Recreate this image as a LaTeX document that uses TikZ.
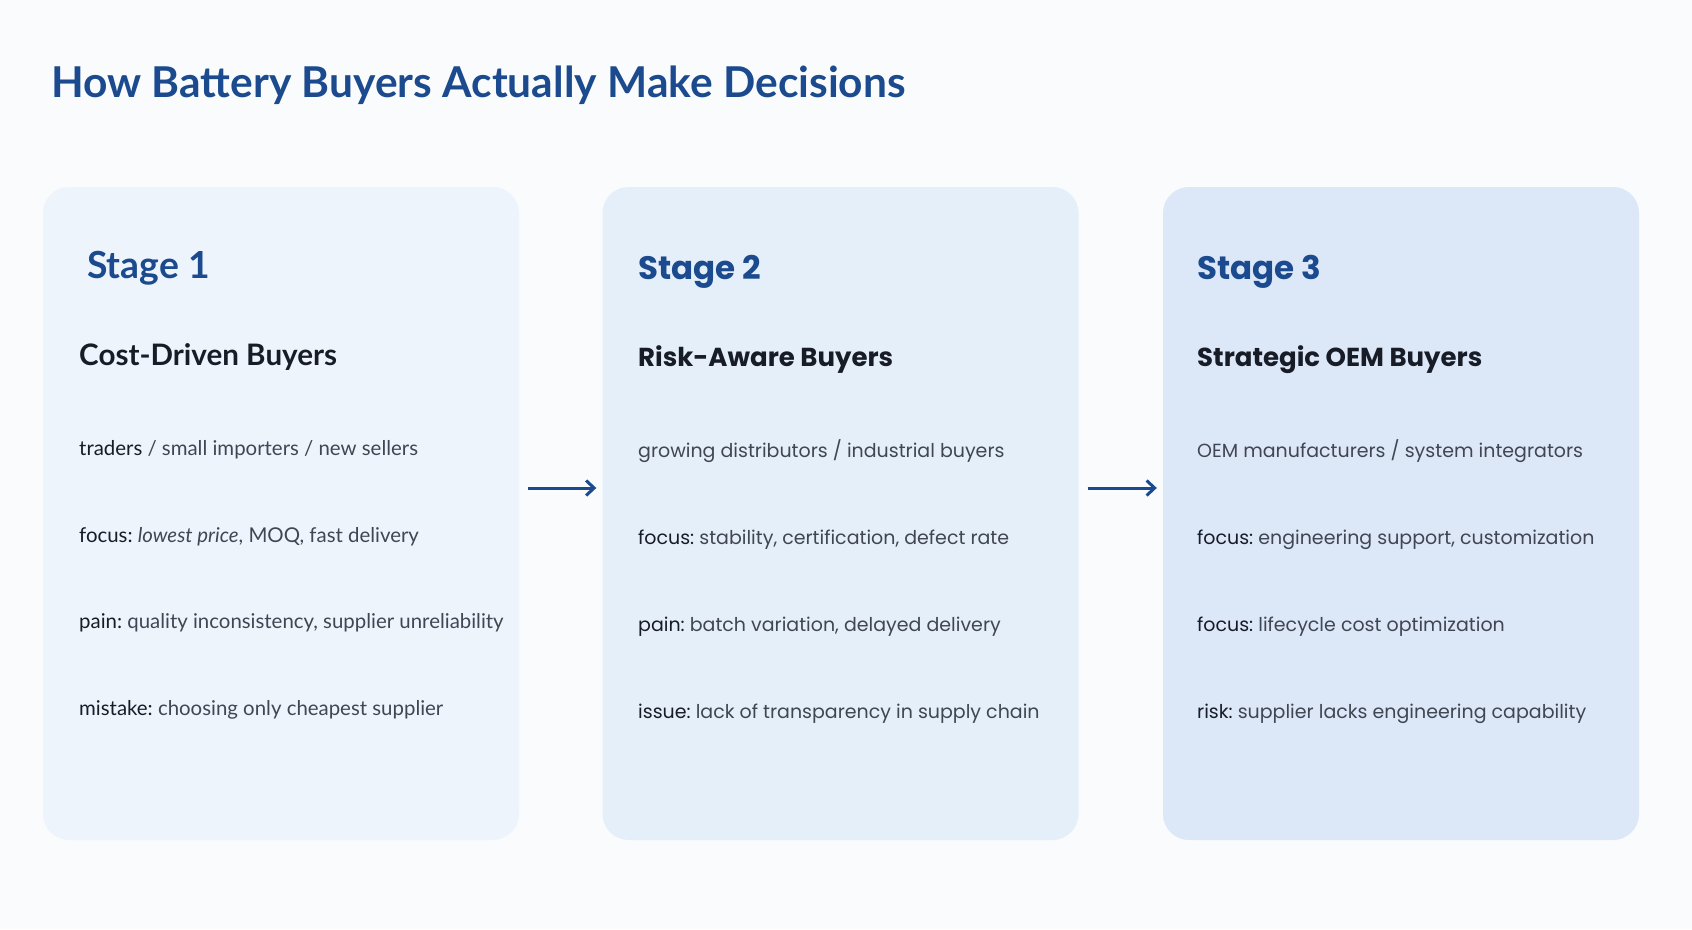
\documentclass[tikz,border=0pt]{standalone}
\usepackage{fontspec}
\setmainfont{Lato}
\newfontfamily\popfont{Poppins}
\frenchspacing
\usetikzlibrary{arrows.meta}
\definecolor{fond}{HTML}{F9FBFD}
\definecolor{marine}{HTML}{1B4A8E}
\definecolor{encre}{HTML}{171C27}
\definecolor{gris}{HTML}{404652}
\definecolor{carteA}{HTML}{EEF4FC}
\definecolor{carteB}{HTML}{E5EFFA}
\definecolor{carteC}{HTML}{DCE7F8}
\begin{document}
\begin{tikzpicture}[x=1pt,y=-1pt]
\tikzset{carte/.style={rounded corners=26pt, minimum width=476pt, minimum height=653pt, inner sep=0pt},
  txt/.style={anchor=base west, inner sep=0pt},
  etape/.style={txt, text=marine, font=\fontsize{37.3}{40}\selectfont\bfseries},
  titre/.style={txt, text=encre, font=\fontsize{29.6}{34}\selectfont\bfseries},
  ligne/.style={txt, text=gris, font=\fontsize{20.4}{24}\selectfont},
  etapeP/.style={txt, text=marine, font=\popfont\fontsize{32.5}{36}\selectfont\bfseries},
  titreP/.style={txt, text=encre, font=\popfont\fontsize{26}{30}\selectfont\bfseries},
  ligneP/.style={txt, text=gris, font=\popfont\fontsize{19}{23}\selectfont},
  fleche/.style={draw=marine, line width=3pt, -{Straight Barb[length=8pt, width=15pt, line width=3pt]}}}
\fill[fond] (0,0) rectangle (1692,929);
\node[txt, text=marine, font=\fontsize{42.5}{46}\selectfont\bfseries] (T) at (51,97) {How Battery Buyers Actually Make Decisions};
\node[carte, fill=carteA] (B1) at (281,513.5) {};
\node[carte, fill=carteB] (B2) at (840.5,513.5) {};
\node[carte, fill=carteC] (B3) at (1401,513.5) {};
\node[etape] (E1) at (87,278) {Stage 1};
\node[titre] (H1) at (79,365) {Cost-Driven Buyers};
\node[ligne] (L11) at (79,455) {\textcolor{encre}{traders} / small importers / new sellers};
\node[ligne] (L12) at (79,542) {\textcolor{encre}{focus:} \textit{lowest price}, MOQ, fast delivery};
\node[ligne] (L13) at (79,628) {\textcolor{encre}{pain:} quality inconsistency, supplier unreliability};
\node[ligne] (L14) at (79,715) {\textcolor{encre}{mistake:} choosing only cheapest supplier};
\node[etapeP] (E2) at (638,279) {Stage 2};
\node[titreP] (H2) at (638,366) {Risk-Aware Buyers};
\node[ligneP] (L21) at (638,457) {growing distributors / industrial buyers};
\node[ligneP] (L22) at (638,544) {\textcolor{encre}{focus:} stability, certification, defect rate};
\node[ligneP] (L23) at (638,631) {\textcolor{encre}{pain:} batch variation, delayed delivery};
\node[ligneP] (L24) at (638,718) {\textcolor{encre}{issue:} lack of transparency in supply chain};
\node[etapeP] (E3) at (1197,279) {Stage 3};
\node[titreP] (H3) at (1197,366) {Strategic OEM Buyers};
\node[ligneP] (L31) at (1197,457) {OEM manufacturers / system integrators};
\node[ligneP] (L32) at (1197,544) {\textcolor{encre}{focus:} engineering support, customization};
\node[ligneP] (L33) at (1197,631) {\textcolor{encre}{focus:} lifecycle cost optimization};
\node[ligneP] (L34) at (1197,718) {\textcolor{encre}{risk:} supplier lacks engineering capability};
\draw[fleche] ([shift={(9,-25.5)}]B1.east) -- ([shift={(-6,-25.5)}]B2.west);
\draw[fleche] ([shift={(9,-25.5)}]B2.east) -- ([shift={(-6,-25.5)}]B3.west);
\end{tikzpicture}
\end{document}
